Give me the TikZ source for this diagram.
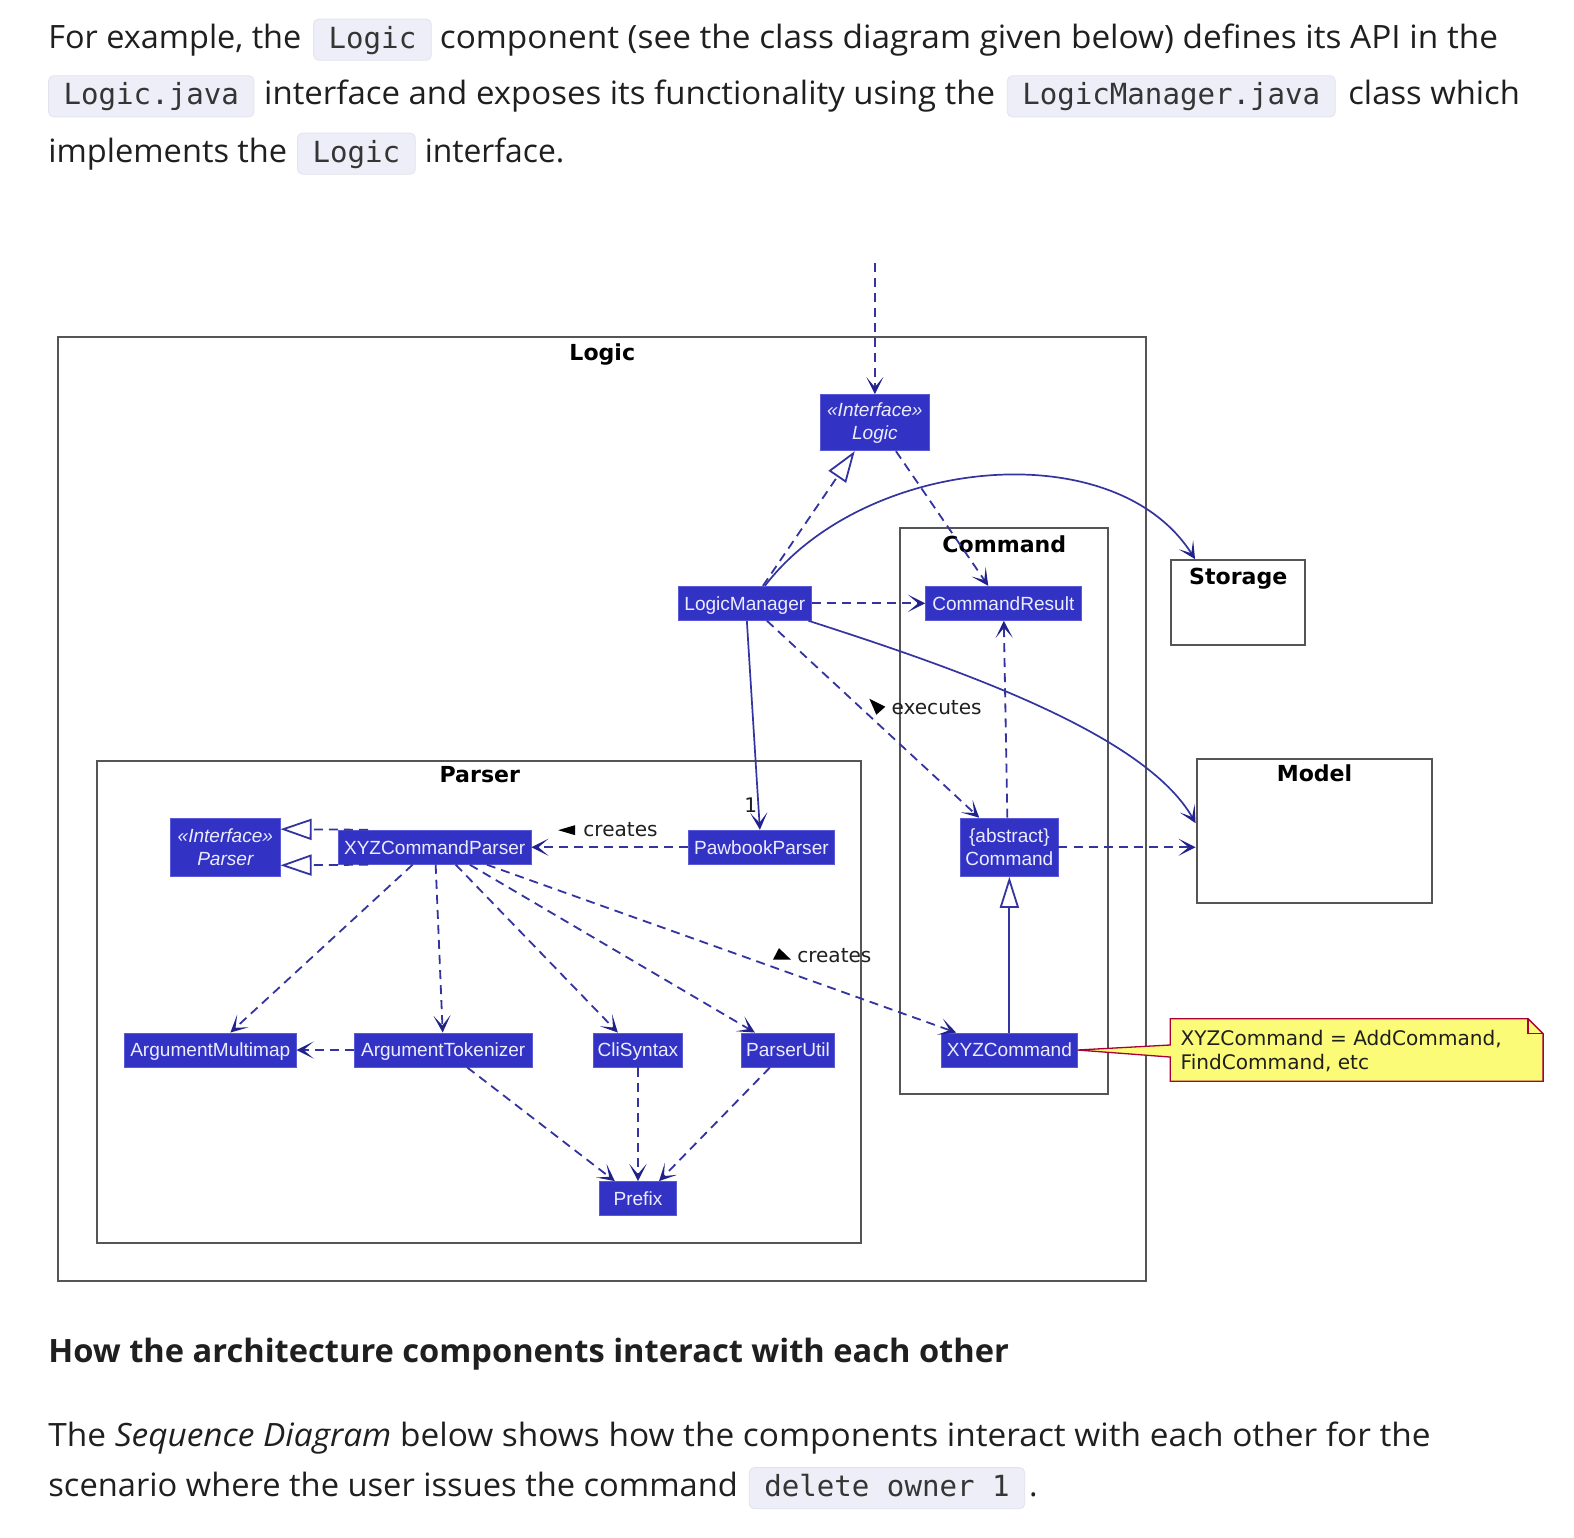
\documentclass[tikz,border=0pt]{standalone}
\usepackage{fontspec}
\usepackage{graphicx}
\setmainfont{Open Sans}
\newfontfamily\codefont{DejaVu Sans Mono}
\newfontfamily\dvfont{DejaVu Sans}
\newfontfamily\arfont{Liberation Sans}
\usetikzlibrary{arrows.meta,calc}
\definecolor{clsfill}{HTML}{3232C4}
\definecolor{clsline}{HTML}{5A5AD8}
\definecolor{clstext}{HTML}{ECECFF}
\definecolor{edgec}{HTML}{3434A0}
\definecolor{tipc}{HTML}{22228C}
\definecolor{pkgc}{HTML}{555555}
\definecolor{codebg}{HTML}{EEEEF8}
\definecolor{codeline}{HTML}{E2E2F0}
\definecolor{notefill}{HTML}{FBFB77}
\definecolor{noteline}{HTML}{A80036}
\definecolor{txt}{HTML}{1F1F1F}
\newcommand\fw[2]{\resizebox{#1}{\height}{#2}}
\begin{document}
\begin{tikzpicture}[x=1pt,y=-1pt,
  para/.style={anchor=base west, inner sep=0, text=txt, font=\fontsize{32}{38}\selectfont},
  codebox/.style={anchor=west, fill=codebg, draw=codeline, line width=0.8pt, rounded corners=5pt,
     inner xsep=15pt, inner ysep=0pt, minimum height=41pt, text height=21pt, text depth=4pt,
     text=txt!90, font=\codefont\fontsize{29}{34}\selectfont},
  cls/.style={fill=clsfill, draw=clsline, line width=0.8pt, text=clstext, inner sep=0pt,
     font=\arfont\fontsize{19}{23}\selectfont, text height=13.7pt, text depth=0pt},
  cls2/.style={fill=clsfill, draw=clsline, line width=0.8pt, text=clstext, inner sep=0pt,
     font=\arfont\fontsize{19}{23}\selectfont, align=center},
  pkg/.style={draw=pkgc, line width=2pt, inner sep=0pt},
  ptitle/.style={anchor=base, inner sep=0pt, font=\dvfont\bfseries\fontsize{22}{26}\selectfont, text=black},
  lbl/.style={anchor=base west, inner sep=0pt, font=\dvfont\fontsize{20}{24}\selectfont, text=txt},
  dep/.style={draw=edgec, line width=1.8pt, dash pattern=on 9pt off 6pt,
     -{Stealth[length=17pt,width=17pt,inset=10pt,color=tipc]}},
  assoc/.style={draw=edgec, line width=1.7pt, -{Stealth[length=17pt,width=17pt,inset=10pt,color=tipc]}},
  realize/.style={draw=edgec, line width=1.8pt, dash pattern=on 9pt off 6pt,
     -{Triangle[fill=white,length=31pt,width=21pt]}},
  inh/.style={draw=edgec, line width=1.8pt, -{Triangle[fill=white,length=31pt,width=19pt]}},
  notestyle/.style={fill=notefill, draw=noteline, line width=1.3pt, line join=miter}
]
\fill[white] (0,0) rectangle (1568,1532);
\useasboundingbox (0,0) rectangle (1568,1532);

% ---------- top paragraph ----------
\node[para] (p1a) at (48,48) {\fw{252pt}{For example, the}};
\node[codebox] (c1) at (312,39.5) {Logic};
\node[para] (p1b) at (438,48) {\fw{1054pt}{component (see the class diagram given below) defines its API in the}};
\node[codebox] (c2) at (48,96) {Logic.java};
\node[para] (p2a) at (263,104.5) {\fw{728pt}{interface and exposes its functionality using the}};
\node[codebox] (c3) at (1003,96) {LogicManager.java};
\node[para] (p2b) at (1343,104.5) {\fw{171pt}{class which}};
\node[para] (p3a) at (48,161.5) {\fw{238pt}{implements the}};
\node[codebox] (c4) at (296,153) {Logic};
\node[para] (p3b) at (423,161.5) {\fw{139pt}{interface.}};

% ---------- packages ----------
\node[pkg, minimum width=1084pt, minimum height=940pt] (logicpkg) at (600,806) {};
\node[ptitle] (logictitle) at (600,359) {Logic};
\node[pkg, minimum width=207pt, minimum height=564pt] (cmdpkg) at (1000.5,808) {};
\node[ptitle] (cmdtitle) at (1000.5,550) {Command};
\node[pkg, minimum width=761pt, minimum height=480pt] (parserpkg) at (477.5,998) {};
\node[ptitle] (parsertitle) at (478,780) {Parser};
\node[pkg, minimum width=133pt, minimum height=85pt] (storage) at (1233.5,600.5) {};
\node[ptitle] (storagetitle) at (1233.5,582) {Storage};
\node[pkg, minimum width=235pt, minimum height=144pt] (model) at (1309.5,828) {};
\node[ptitle] (modeltitle) at (1309.5,779) {Model};

% ---------- classes ----------
\node[cls2, minimum width=109pt, minimum height=56pt] (lgi) at (871.5,421) {\itshape «Interface»\\\itshape Logic};
\node[cls, minimum width=132pt, minimum height=34pt] (lm) at (742,601) {LogicManager};
\node[cls, minimum width=155pt, minimum height=34pt] (cr) at (999.5,601) {CommandResult};
\node[cls2, minimum width=97pt, minimum height=58pt] (cmd) at (1005.5,844) {\{abstract\}\\Command};
\node[cls, minimum width=135pt, minimum height=34pt] (xc) at (1005.5,1046) {XYZCommand};
\node[cls2, minimum width=109pt, minimum height=58pt] (pi) at (224.5,844) {\itshape «Interface»\\\itshape Parser};
\node[cls, minimum width=192pt, minimum height=34pt] (xp) at (433,844) {XYZCommandParser};
\node[cls, minimum width=145pt, minimum height=34pt] (pp) at (758.5,844) {PawbookParser};
\node[cls, minimum width=171pt, minimum height=34pt] (am) at (209.5,1046) {ArgumentMultimap};
\node[cls, minimum width=177pt, minimum height=34pt] (at) at (441.5,1046) {ArgumentTokenizer};
\node[cls, minimum width=89pt, minimum height=34pt] (cs) at (635.5,1046) {CliSyntax};
\node[cls, minimum width=92pt, minimum height=34pt] (pu) at (785,1046) {ParserUtil};
\node[cls, minimum width=77pt, minimum height=34pt] (pf) at (635.5,1194) {Prefix};

% ---------- connectors ----------
\coordinate (top) at (871.5,262);
\draw[dep] (top) -- (lgi.north);
\draw[realize] ([xshift=18pt]lm.north) -- ([xshift=-20pt]lgi.south);
\draw[dep] ([xshift=21pt]lgi.south) -- ([xshift=-15pt]cr.north);
\draw[dep] (lm.east) -- (cr.west);
\draw[assoc] ([xshift=20pt]lm.north) .. controls (860,455) and (1110,430) .. ([xshift=-43pt]storage.north);
\draw[assoc] ([xshift=-3pt]lm.south east) .. controls (950,665) and (1140,730) .. ([yshift=8pt]model.west);
\draw[assoc] ([xshift=2pt]lm.south) -- ([xshift=-1.5pt]pp.north);
\node[lbl, anchor=base] (one) at (748,809) {1};
\draw[dep] ([xshift=22pt]lm.south) -- ([xshift=-30pt]cmd.north);
\node[lbl] (exlbl) at (888,712) {executes};
\fill[black] (866,696) -- (873,712) -- (882,704) -- cycle;
\draw[dep] ([xshift=-2pt]cmd.north) -- ([xshift=0.5pt]cr.south);
\draw[dep] (cmd.east) -- (cmd.east -| model.west);
\draw[inh] (xc.north) -- (cmd.south);

\draw[dep] (pp.west) -- (xp.east);
\node[lbl] (cr1lbl) at (581,833) {creates};
\fill[black] (556,827) -- (573,822) -- (573,832) -- cycle;
\draw[realize] ([xshift=30pt]xp.north west) -- ([yshift=18pt]pi.east);
\draw[realize] ([xshift=30pt]xp.south west) -- ([yshift=-18pt]pi.east);
\draw[dep] ([xshift=-22pt]xp.south) -- ([xshift=20pt]am.north);
\draw[dep] ([xshift=1pt]xp.south) -- ([xshift=-0.5pt]at.north);
\draw[dep] ([xshift=21pt]xp.south) -- ([xshift=-20pt]cs.north);
\draw[dep] ([xshift=35pt]xp.south) -- ([xshift=-33pt]pu.north);
\draw[dep] ([xshift=52pt]xp.south) -- ([xshift=-53pt]xc.north);
\node[lbl] (cr2lbl) at (794,959) {creates};
\fill[black] (776,944.5) -- (770,956) -- (788,956) -- cycle;
\draw[dep] (at.west) -- (am.east);
\draw[dep] ([xshift=24pt]at.south) -- ([xshift=-23pt]pf.north);
\draw[dep] (cs.south) -- (pf.north);
\draw[dep] ([xshift=-18pt]pu.south) -- ([xshift=21pt]pf.north);

% ---------- note ----------
\node[minimum width=371pt, minimum height=62pt, inner sep=0pt] (note) at (1351.5,1046) {};
\draw[notestyle] (note.north west) -- ([xshift=-15pt]note.north east) -- ([yshift=-15pt]note.north east)
   -- (note.south east) -- (note.south west) -- ([yshift=-7pt]note.west) -- (xc.east)
   -- ([yshift=5pt]note.west) -- cycle;
\draw[noteline, line width=1.3pt] ([xshift=-15pt]note.north east) -- ([xshift=-15pt,yshift=-15pt]note.north east)
   -- ([yshift=-15pt]note.north east);
\node[anchor=base west, inner sep=0pt, align=left, font=\dvfont\fontsize{20}{24}\selectfont, text=txt]
   (notetxt) at (1176,1065) {XYZCommand = AddCommand,\\FindCommand, etc};

% ---------- bottom text ----------
\node[para, font=\bfseries\fontsize{32}{38}\selectfont] (head) at (48,1357)
   {\fw{957pt}{How the architecture components interact with each other}};
\node[para] (q1) at (48,1441) {\fw{1377pt}{The \textit{Sequence Diagram} below shows how the components interact with each other for the}};
\node[para] (q2a) at (48,1491) {\fw{687pt}{scenario where the user issues the command}};
\node[codebox] (c5) at (746,1482.5) {delete owner 1};
\node[para] (q2b) at (1025,1491) {.};
\end{tikzpicture}
\end{document}
